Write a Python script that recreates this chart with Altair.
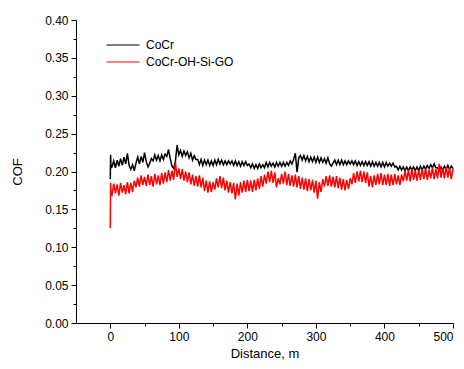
import altair as alt
import pandas as pd

series_names = ["CoCr", "CoCr-OH-Si-GO"]
series_colors = ["#000000", "#ff0000"]

# distance (m): three start-up samples, then every 2.5 m
distance = [0.0, 0.5, 1.0] + [2.5 * i for i in range(1, 201)]

cocr = [0.190, 0.222, 0.205,
    0.206, 0.214, 0.205, 0.215, 0.207, 0.217, 0.208, 0.219, 0.210, 0.224,
    0.208, 0.203, 0.209, 0.201, 0.211, 0.219, 0.210, 0.220, 0.212, 0.225,
    0.213, 0.206, 0.211, 0.217, 0.214, 0.222, 0.215, 0.221, 0.214, 0.222,
    0.216, 0.223, 0.220, 0.229, 0.217, 0.207, 0.204, 0.213, 0.235, 0.222,
    0.228, 0.220, 0.227, 0.221, 0.226, 0.218, 0.224, 0.215, 0.221, 0.216,
    0.216, 0.209, 0.216, 0.208, 0.215, 0.209, 0.215, 0.208, 0.214, 0.208,
    0.215, 0.209, 0.216, 0.210, 0.215, 0.209, 0.214, 0.209, 0.214, 0.210,
    0.214, 0.208, 0.214, 0.208, 0.213, 0.207, 0.213, 0.208, 0.213, 0.208,
    0.210, 0.205, 0.210, 0.204, 0.209, 0.204, 0.210, 0.205, 0.209, 0.205,
    0.212, 0.206, 0.212, 0.207, 0.211, 0.206, 0.212, 0.207, 0.212, 0.207,
    0.212, 0.207, 0.212, 0.208, 0.214, 0.210, 0.216, 0.224, 0.199, 0.218,
    0.221, 0.215, 0.221, 0.214, 0.220, 0.213, 0.219, 0.213, 0.219, 0.212,
    0.219, 0.212, 0.218, 0.212, 0.217, 0.211, 0.218, 0.210, 0.207, 0.211,
    0.215, 0.209, 0.215, 0.209, 0.215, 0.209, 0.214, 0.209, 0.214, 0.210,
    0.214, 0.209, 0.214, 0.208, 0.213, 0.208, 0.213, 0.208, 0.213, 0.208,
    0.213, 0.207, 0.213, 0.207, 0.212, 0.207, 0.212, 0.206, 0.212, 0.206,
    0.212, 0.207, 0.211, 0.207, 0.211, 0.206, 0.207, 0.202, 0.207, 0.202,
    0.206, 0.201, 0.206, 0.201, 0.206, 0.202, 0.206, 0.201, 0.206, 0.201,
    0.207, 0.202, 0.207, 0.203, 0.208, 0.204, 0.209, 0.205, 0.210, 0.205,
    0.205, 0.201, 0.206, 0.201, 0.207, 0.203, 0.208, 0.203, 0.207, 0.204]

cocr_go = [0.125, 0.185, 0.172,
    0.169, 0.184, 0.171, 0.183, 0.168, 0.185, 0.172, 0.182, 0.170, 0.186,
    0.171, 0.185, 0.173, 0.188, 0.179, 0.192, 0.180, 0.195, 0.182, 0.193,
    0.181, 0.196, 0.182, 0.194, 0.180, 0.197, 0.183, 0.195, 0.182, 0.198,
    0.184, 0.199, 0.186, 0.202, 0.188, 0.201, 0.189, 0.212, 0.193, 0.204,
    0.190, 0.203, 0.188, 0.200, 0.186, 0.199, 0.183, 0.196, 0.181, 0.194,
    0.180, 0.195, 0.179, 0.192, 0.174, 0.188, 0.172, 0.187, 0.173, 0.186,
    0.176, 0.191, 0.179, 0.194, 0.178, 0.192, 0.175, 0.188, 0.172, 0.186,
    0.171, 0.185, 0.163, 0.184, 0.168, 0.186, 0.172, 0.188, 0.173, 0.189,
    0.174, 0.188, 0.173, 0.189, 0.175, 0.191, 0.177, 0.194, 0.180, 0.196,
    0.184, 0.200, 0.186, 0.201, 0.185, 0.199, 0.179, 0.191, 0.183, 0.197,
    0.184, 0.200, 0.182, 0.197, 0.181, 0.195, 0.180, 0.196, 0.179, 0.194,
    0.177, 0.192, 0.176, 0.191, 0.174, 0.190, 0.175, 0.189, 0.172, 0.188,
    0.164, 0.186, 0.173, 0.190, 0.180, 0.194, 0.181, 0.195, 0.180, 0.193,
    0.179, 0.194, 0.178, 0.192, 0.176, 0.190, 0.175, 0.189, 0.177, 0.191,
    0.183, 0.198, 0.185, 0.200, 0.187, 0.201, 0.186, 0.200, 0.185, 0.199,
    0.180, 0.194, 0.179, 0.195, 0.182, 0.197, 0.183, 0.198, 0.182, 0.196,
    0.182, 0.197, 0.181, 0.196, 0.182, 0.197, 0.183, 0.195, 0.182, 0.196,
    0.187, 0.201, 0.188, 0.202, 0.187, 0.203, 0.189, 0.201, 0.188, 0.202,
    0.189, 0.203, 0.190, 0.204, 0.189, 0.202, 0.191, 0.205, 0.190, 0.203,
    0.191, 0.210, 0.192, 0.205, 0.191, 0.206, 0.192, 0.205, 0.190, 0.204]

x_major = [0, 100, 200, 300, 400, 500]
x_minor = [50, 150, 250, 350, 450]
y_major = [0.0, 0.05, 0.10, 0.15, 0.20, 0.25, 0.30, 0.35, 0.40]
y_minor = [0.025, 0.075, 0.125, 0.175, 0.225, 0.275, 0.325, 0.375]

rows = []
for name, vals in zip(series_names, [cocr, cocr_go]):
    for i, (d, v) in enumerate(zip(distance, vals)):
        rows.append({"d": d, "cof": v, "series": name, "idx": i})
df = pd.DataFrame(rows)

FONT = "Liberation Sans"
xs = alt.Scale(domain=[-50, 500], nice=False, zero=False)
ys = alt.Scale(domain=[0, 0.4], nice=False)

major_x = alt.Axis(values=x_major, title="Distance, m", grid=False, tickSize=5,
                   labelFontSize=12, labelFont=FONT, labelColor="#000000",
                   titleFont=FONT, titleFontSize=13, titleFontWeight="normal",
                   titleColor="#000000", titlePadding=5, domainColor="#000000",
                   tickColor="#000000", labelPadding=3, orient="bottom")
major_y = alt.Axis(values=y_major, format=".2f", title="COF", grid=False, tickSize=5,
                   labelFontSize=12, labelFont=FONT, labelColor="#000000",
                   titleFont=FONT, titleFontSize=13, titleFontWeight="normal",
                   titleColor="#000000", titlePadding=20, domainColor="#000000",
                   tickColor="#000000", labelPadding=3, orient="left")
minor_x = alt.Axis(values=x_minor, labels=False, domain=False, grid=False, tickSize=3,
                   tickColor="#000000", title=None, orient="bottom")
minor_y = alt.Axis(values=y_minor, labels=False, domain=False, grid=False, tickSize=3,
                   tickColor="#000000", title=None, orient="left")

base = alt.Chart(df)

minor = base.mark_line(opacity=0).encode(
    x=alt.X("d:Q", scale=xs, axis=minor_x),
    y=alt.Y("cof:Q", scale=ys, axis=minor_y),
    detail="series:N",
)

lines = base.mark_line(strokeWidth=1.5).encode(
    x=alt.X("d:Q", scale=xs, axis=major_x),
    y=alt.Y("cof:Q", scale=ys, axis=major_y),
    color=alt.Color("series:N",
                    scale=alt.Scale(domain=series_names, range=series_colors),
                    legend=alt.Legend(title=None, orient="none", legendX=41, legendY=19,
                                      symbolType="M-4,0H4", symbolSize=68,
                                      symbolStrokeWidth=1, labelOffset=17,
                                      labelFont=FONT, labelFontSize=12,
                                      labelColor="#000000", rowPadding=5)),
    order="idx:Q",
)

chart = alt.layer(minor, lines).resolve_axis(x="independent", y="independent").properties(
    width=377, height=303,
    autosize=alt.AutoSizeParams(type="none"),
    padding={"left": 68, "top": 12, "right": 3, "bottom": 38},
).configure_view(stroke=None)

chart.save("out.html", embed_options={"renderer": "svg", "actions": False})
